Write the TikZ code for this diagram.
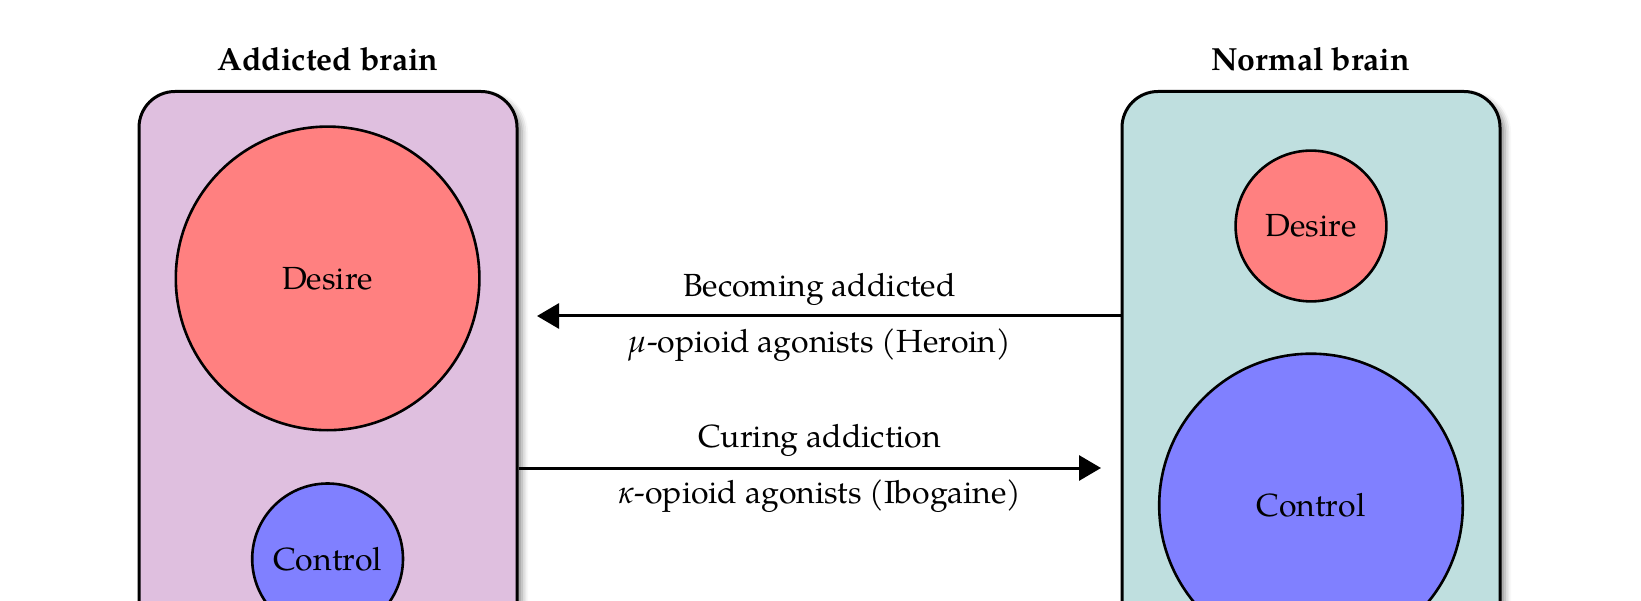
\documentclass[tikz,border=0pt]{standalone}
\usepackage{fontspec}
\setmainfont{TeX Gyre Pagella}
\usetikzlibrary{arrows.meta,shadows.blur}

\tikzset{
  brainbox/.style={draw=black, line width=3pt, rounded corners=36pt,
    minimum width=378pt, minimum height=640pt, anchor=north, inner sep=0pt,
    blur shadow={shadow xshift=5pt, shadow yshift=-5pt,
                 shadow blur radius=6pt, shadow opacity=45}},
  region/.style={circle, draw=black, line width=2.6pt, inner sep=0pt,
    font=\fontsize{32}{38}\selectfont},
  bigregion/.style={region, minimum size=303.6pt},
  smallregion/.style={region, minimum size=150.8pt},
  heading/.style={font=\fontsize{32}{38}\selectfont\bfseries, anchor=base},
  caption/.style={font=\fontsize{32}{38}\selectfont, anchor=base},
  flow/.style={line width=3pt, -{Triangle[length=22pt, width=25pt]}},
}

\begin{document}
\begin{tikzpicture}[x=1pt, y=-1pt]
  \useasboundingbox (0,0) rectangle (1641,601);
  \clip (0,0) rectangle (1641,601);

  % the two brain states
  \node[brainbox, fill=violet!25] (lbox) at (328,90) {};
  \node[brainbox, fill=teal!25]   (rbox) at (1311,90) {};

  \node[heading] (ltitle) at (328,70.5) {Addicted brain};
  \node[heading] (rtitle) at (1311,70.5) {Normal brain};

  \node[bigregion,   fill=red!50]  (ldesire)  at (327.6,278.4) {Desire};
  \node[smallregion, fill=blue!50] (lcontrol) at (327.6,558.9) {Control};
  \node[smallregion, fill=red!50]  (rdesire)  at (1311,226) {Desire};
  \node[bigregion,   fill=blue!50] (rcontrol) at (1311,505.5) {Control};

  % transitions between the states
  \coordinate (tipa) at (537,316);
  \coordinate (tipb) at (1101,468);
  \draw[flow] (rbox.west |- tipa) -- (tipa);
  \draw[flow] (lbox.east |- tipb) -- (tipb);

  \node[caption] (cap1) at (819.5,296.5) {Becoming addicted};
  \node[caption] (cap2) at (819.5,353) {\textit{μ}-opioid agonists (Heroin)};
  \node[caption] (cap3) at (819.5,447) {Curing addiction};
  \node[caption] (cap4) at (819.5,503) {\textit{κ}-opioid agonists (Ibogaine)};
\end{tikzpicture}
\end{document}
